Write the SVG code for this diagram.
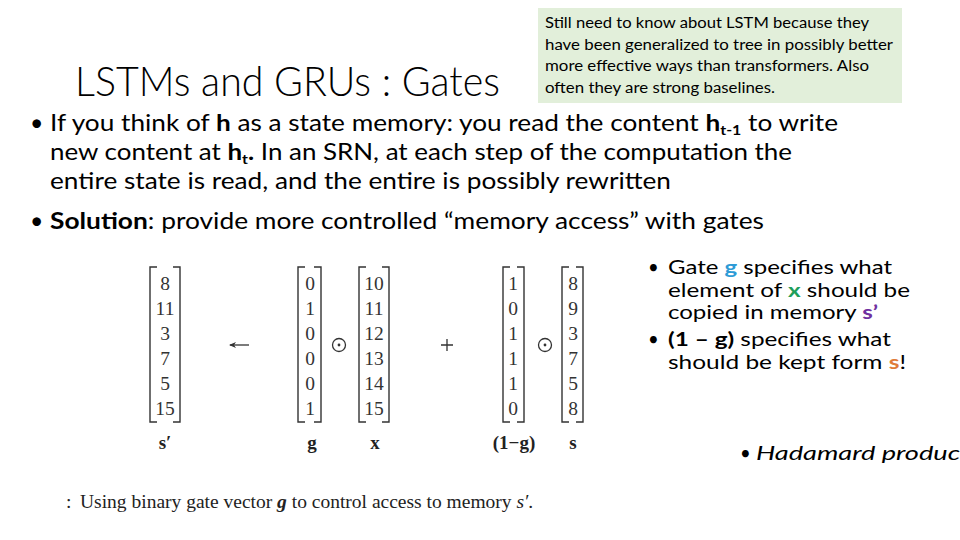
<svg xmlns="http://www.w3.org/2000/svg" width="960" height="540" viewBox="0 0 960 540">
<style>
.ui{font-family:Lato,"Open Sans","Liberation Sans",sans-serif;fill:#000}
.title{font-size:41px;font-weight:300}
.body{font-size:23px}
.note{font-size:15.5px}
.side{font-size:18.5px}
.b{font-weight:700}
.num{font-family:"Liberation Serif","DejaVu Serif",serif;font-size:19.5px;fill:#333;text-anchor:middle}
.lab{font-family:"Liberation Serif","DejaVu Serif",serif;font-size:19px;font-weight:700;fill:#222;text-anchor:middle}
.cap{font-family:"Liberation Serif","DejaVu Serif",serif;font-size:19.5px;fill:#222}
.br{fill:none;stroke:#333;stroke-width:1.4}
.op{fill:none;stroke:#333;stroke-width:1.3}
</style>
<rect width="960" height="540" fill="#fff"/>
<g id="title"><text class="ui title" x="75" y="96" textLength="425" lengthAdjust="spacingAndGlyphs">LSTMs and GRUs : Gates</text></g>
<g id="note">
<rect x="538" y="8" width="364" height="95" fill="#E2EFDA"/>
<text class="ui note" x="545" y="28" textLength="324" lengthAdjust="spacingAndGlyphs">Still need to know about LSTM because they</text>
<text class="ui note" x="545" y="50" textLength="348" lengthAdjust="spacingAndGlyphs">have been generalized to tree in possibly better</text>
<text class="ui note" x="545" y="71" textLength="324" lengthAdjust="spacingAndGlyphs">more effective ways than transformers. Also</text>
<text class="ui note" x="545" y="93" textLength="230" lengthAdjust="spacingAndGlyphs">often they are strong baselines.</text>
</g>
<g id="bullets">
<text class="ui body" x="30" y="131">•</text>
<text class="ui body" x="50" y="131" textLength="788" lengthAdjust="spacingAndGlyphs">If you think of <tspan class="b">h</tspan> as a state memory: you read the content <tspan class="b">h</tspan><tspan class="b" font-size="14" dy="4">t-1</tspan><tspan dy="-4"> to write</tspan></text>
<text class="ui body" x="50" y="160" textLength="742" lengthAdjust="spacingAndGlyphs">new content at <tspan class="b">h</tspan><tspan class="b" font-size="14" dy="4">t</tspan><tspan class="b" dy="-4">.</tspan> In an SRN, at each step of the computation the</text>
<text class="ui body" x="50" y="189" textLength="621" lengthAdjust="spacingAndGlyphs">entire state is read, and the entire is possibly rewritten</text>
<text class="ui body" x="30" y="229">•</text>
<text class="ui body" x="50" y="229" textLength="714" lengthAdjust="spacingAndGlyphs"><tspan class="b">Solution</tspan>: provide more controlled “memory access” with gates</text>
</g>
<g id="side">
<text class="ui side" x="648" y="274">•</text>
<text class="ui side" x="668" y="274" textLength="224" lengthAdjust="spacingAndGlyphs">Gate <tspan class="b" fill="#2E9BD6">g</tspan> specifies what</text>
<text class="ui side" x="668" y="296.5" textLength="242" lengthAdjust="spacingAndGlyphs">element of <tspan class="b" fill="#1E9E5A">x</tspan> should be</text>
<text class="ui side" x="668" y="319" textLength="210" lengthAdjust="spacingAndGlyphs">copied in memory <tspan class="b" fill="#7030A0">s’</tspan></text>
<text class="ui side" x="648" y="346">•</text>
<text class="ui side" x="668" y="346" textLength="223" lengthAdjust="spacingAndGlyphs"><tspan class="b">(1 – g)</tspan> specifies what</text>
<text class="ui side" x="668" y="369" textLength="238" lengthAdjust="spacingAndGlyphs">should be kept form <tspan class="b" fill="#E07B39">s</tspan>!</text>
<text class="ui side" x="740" y="460">•</text>
<text class="ui side" x="756" y="460" font-style="italic" font-size="21" textLength="204" lengthAdjust="spacingAndGlyphs">Hadamard produc</text>
</g>
<g id="figure">
<g id="vec-sprime">
<path class="br" d="M157,267 H150 V422 H157 M173,267 H180 V422 H173"/>
<text class="num" x="165" y="290">8</text><text class="num" x="165" y="315">11</text><text class="num" x="165" y="340">3</text><text class="num" x="165" y="365">7</text><text class="num" x="165" y="390">5</text><text class="num" x="165" y="415">15</text>
<text class="lab" x="165" y="449">s′</text>
</g>
<g id="arrow">
<path class="op" d="M230,345 H249"/>
<path d="M229,345 L236,342 L234,345 L236,348 Z" fill="#333"/>
</g>
<g id="vec-g">
<path class="br" d="M305,267 H298 V422 H305 M314,267 H321 V422 H314"/>
<text class="num" x="310" y="290">0</text><text class="num" x="310" y="315">1</text><text class="num" x="310" y="340">0</text><text class="num" x="310" y="365">0</text><text class="num" x="310" y="390">0</text><text class="num" x="310" y="415">1</text>
<text class="lab" x="312" y="449">g</text>
</g>
<g id="odot1"><circle class="op" cx="339" cy="345" r="6.5"/><circle cx="339" cy="345" r="1.4" fill="#333"/></g>
<g id="vec-x">
<path class="br" d="M366,267 H359 V422 H366 M382,267 H389 V422 H382"/>
<text class="num" x="374" y="290">10</text><text class="num" x="374" y="315">11</text><text class="num" x="374" y="340">12</text><text class="num" x="374" y="365">13</text><text class="num" x="374" y="390">14</text><text class="num" x="374" y="415">15</text>
<text class="lab" x="375" y="449">x</text>
</g>
<g id="plus"><path class="op" d="M441,345 H453 M447,339 V351"/></g>
<g id="vec-1mg">
<path class="br" d="M510,267 H503 V422 H510 M517,267 H524 V422 H517"/>
<text class="num" x="513" y="290">1</text><text class="num" x="513" y="315">0</text><text class="num" x="513" y="340">1</text><text class="num" x="513" y="365">1</text><text class="num" x="513" y="390">1</text><text class="num" x="513" y="415">0</text>
<text class="lab" x="514" y="449">(1−g)</text>
</g>
<g id="odot2"><circle class="op" cx="545" cy="345" r="6.5"/><circle cx="545" cy="345" r="1.4" fill="#333"/></g>
<g id="vec-s">
<path class="br" d="M569,267 H562 V422 H569 M576,267 H583 V422 H576"/>
<text class="num" x="573" y="290">8</text><text class="num" x="573" y="315">9</text><text class="num" x="573" y="340">3</text><text class="num" x="573" y="365">7</text><text class="num" x="573" y="390">5</text><text class="num" x="573" y="415">8</text>
<text class="lab" x="573" y="449">s</text>
</g>
<g id="caption">
<text class="cap" x="66" y="508">:</text>
<text class="cap" x="80" y="508">Using binary gate vector <tspan font-style="italic" font-weight="700">g</tspan>  to control access to memory <tspan font-style="italic">s′</tspan>.</text>
</g>
</g>
</svg>
